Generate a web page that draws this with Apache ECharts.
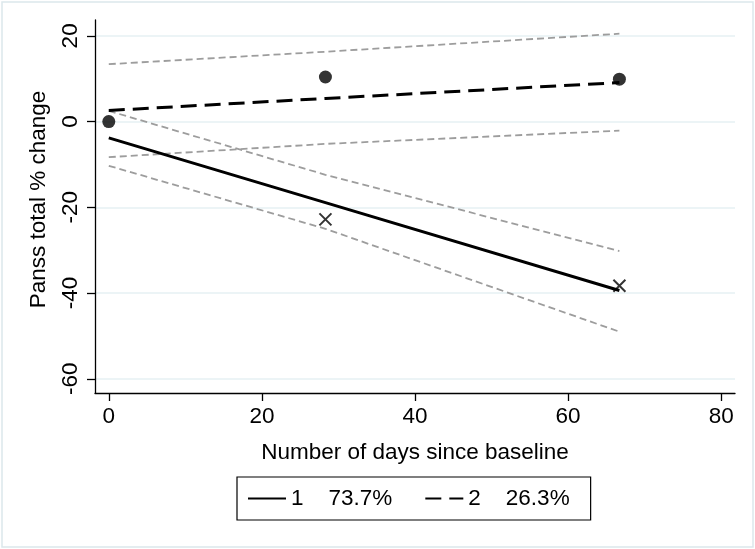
<!DOCTYPE html>
<html>
<head>
<meta charset="utf-8">
<script src="https://cdn.jsdelivr.net/npm/echarts@6/dist/echarts.min.js"></script>
<style>
html,body{margin:0;padding:0;background:#fff;}
#chart{width:755px;height:549px;}
</style>
</head>
<body>
<div id="chart"></div>
<script>
// ---- data ----
const times = [0, 28.3, 66.7];
const fit1 = [-3.8, -18.9, -39.4];
const fit2 = [2.6, 5.4, 9.1];
const ci1Upper = [2.5, -12.4, -30.2];
const ci1Lower = [-10.3, -25.0, -49.0];
const ci2Upper = [13.4, 16.3, 20.5];
const ci2Lower = [-8.3, -5.2, -2.1];
const obs1Times = [28.3, 66.7];
const obs1 = [-22.8, -38.3];
const obs2Times = [0, 28.3, 66.7];
const obs2 = [0, 10.4, 9.9];
const xTicks = [0, 20, 40, 60, 80];
const yTicks = [-60, -40, -20, 0, 20];
const group1Name = '1    73.7%';
const group2Name = '2    26.3%';

const FONT = '"Liberation Sans", Arial, Helvetica, sans-serif';
const pairs = (xs, ys) => xs.map((x, i) => [x, ys[i]]);

const chart = echarts.init(document.getElementById('chart'), null, {renderer: 'canvas'});
const grayLine = {color: '#9d9d9d', width: 1.8, type: [7, 4]};

const option = {
  backgroundColor: '#ffffff',
  animation: false,
  textStyle: {fontFamily: FONT, color: '#000'},
  graphic: [{
    type: 'rect', z: -10,
    shape: {x: 2, y: 2, width: 751, height: 545},
    style: {fill: 'none', stroke: '#dce7ec', lineWidth: 1.5}
  }],
  grid: {left: 95, right: 20, top: 20, bottom: 156, containLabel: false},
  xAxis: {
    type: 'value', min: -1.8, max: 81.8,
    name: 'Number of days since baseline',
    nameLocation: 'middle', nameGap: 48,
    nameTextStyle: {fontFamily: FONT, fontSize: 22.5, color: '#000'},
    axisLine: {show: true, onZero: false, lineStyle: {color: '#000', width: 1.3}},
    axisTick: {show: true, length: 8, customValues: xTicks, lineStyle: {color: '#000', width: 1.3}},
    axisLabel: {customValues: xTicks, margin: 12, fontFamily: FONT, fontSize: 22.5, color: '#000'},
    splitLine: {show: false}
  },
  yAxis: {
    type: 'value', min: -63.3, max: 23.7,
    name: 'Panss total % change',
    nameLocation: 'middle', nameGap: 45,
    nameTextStyle: {fontFamily: FONT, fontSize: 22.5, color: '#000', padding: [0, 0, 0, 14]},
    axisLine: {show: true, onZero: false, lineStyle: {color: '#000', width: 1.3}},
    axisTick: {show: true, length: 8, customValues: yTicks, lineStyle: {color: '#000', width: 1.3}},
    axisLabel: {customValues: yTicks, rotate: 90, margin: 13, fontFamily: FONT, fontSize: 22.5, color: '#000'},
    splitLine: {show: true, lineStyle: {color: '#e6f0f3', width: 1.5}}
  },
  legend: {
    data: [group1Name, group2Name],
    top: 477, left: 237,
    orient: 'horizontal',
    borderColor: '#000', borderWidth: 1.2,
    padding: [10, 21, 10, 10],
    itemWidth: 38, itemHeight: 14, itemGap: 32,
    itemStyle: {opacity: 0},
    textStyle: {fontFamily: FONT, fontSize: 22.5, color: '#000'},
    selectedMode: false
  },
  series: [
    {type: 'line', name: 'ci1u', data: pairs(times, ci1Upper), symbol: 'none', lineStyle: grayLine, z: 1, silent: true},
    {type: 'line', name: 'ci1l', data: pairs(times, ci1Lower), symbol: 'none', lineStyle: grayLine, z: 1, silent: true},
    {type: 'line', name: 'ci2u', data: pairs(times, ci2Upper), symbol: 'none', lineStyle: grayLine, z: 1, silent: true},
    {type: 'line', name: 'ci2l', data: pairs(times, ci2Lower), symbol: 'none', lineStyle: grayLine, z: 1, silent: true},
    {type: 'line', name: group1Name, data: pairs(times, fit1), symbol: 'none',
     itemStyle: {color: '#000'},
     lineStyle: {color: '#000', width: 3, type: 'solid'}, z: 3},
    {type: 'line', name: group2Name, data: pairs(times, fit2), symbol: 'none',
     itemStyle: {color: '#000'},
     lineStyle: {color: '#000', width: 3, type: [16, 8]}, z: 3},
    {type: 'scatter', name: 'obs1', data: pairs(obs1Times, obs1),
     symbol: 'path://M0,0L10,10M10,0L0,10', symbolSize: 12,
     itemStyle: {color: 'none', borderColor: '#000', borderWidth: 2}, z: 4},
    {type: 'scatter', name: 'obs2', data: pairs(obs2Times, obs2),
     symbol: 'circle', symbolSize: 13,
     itemStyle: {color: '#000'}, z: 5}
  ]
};
chart.setOption(option);
</script>
</body>
</html>
